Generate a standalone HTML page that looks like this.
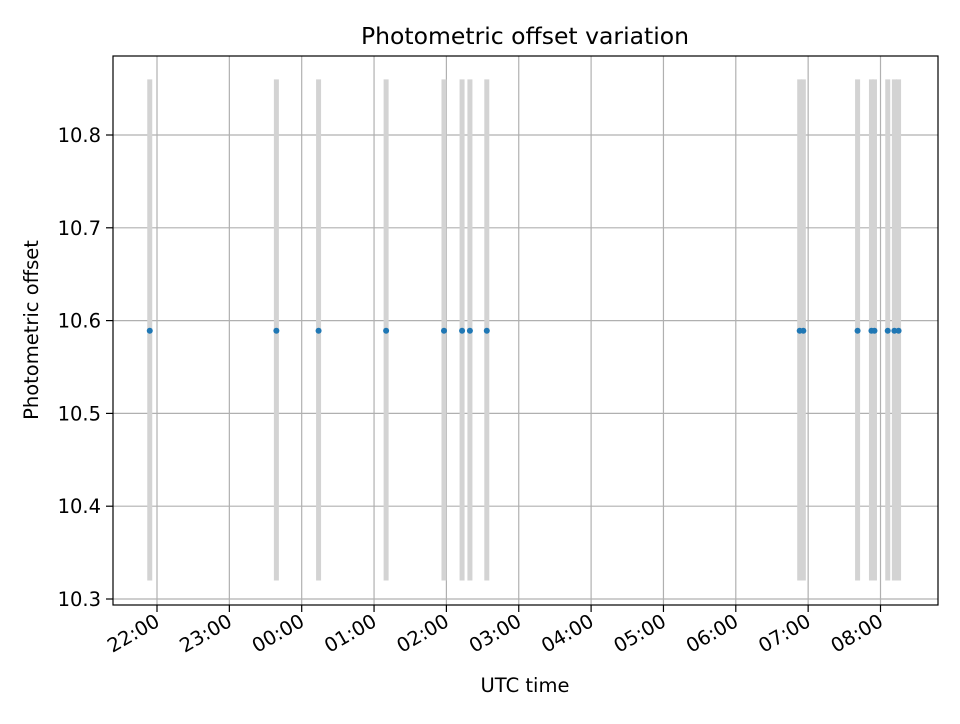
<!DOCTYPE html>
<html><head><meta charset="utf-8"><style>
body{margin:0;background:#fff;font-family:"DejaVu Sans","Liberation Sans",sans-serif}
</style></head><body>
<svg id="chart" width="960" height="720" xmlns="http://www.w3.org/2000/svg" font-family="DejaVu Sans, Liberation Sans, sans-serif">
<rect width="960" height="720" fill="#fff"/>
<g id="grid"></g>
<g id="bars"></g>
<g id="pts"></g>
<rect x="113" y="56" width="825" height="549" fill="none" stroke="#000" stroke-width="1.2"/>
<g id="axes"></g>
<text x="525" y="44" text-anchor="middle" font-size="23.5">Photometric offset variation</text>
<text x="525" y="692" text-anchor="middle" font-size="19.5">UTC time</text>
<text x="38" y="330" text-anchor="middle" font-size="19.5" transform="rotate(-90 38 330)">Photometric offset</text>
</svg>
<script>
// minutes relative to 22:00
const times=[-6,99,134,190,238,253,259.5,273.5,533,536,581,592.5,595,606,611.5,615];
const values=[10.589,10.589,10.589,10.589,10.589,10.589,10.589,10.589,10.589,10.589,10.589,10.589,10.589,10.589,10.589,10.589];
const errLow=[10.32,10.32,10.32,10.32,10.32,10.32,10.32,10.32,10.32,10.32,10.32,10.32,10.32,10.32,10.32,10.32];
const errHigh=[10.86,10.86,10.86,10.86,10.86,10.86,10.86,10.86,10.86,10.86,10.86,10.86,10.86,10.86,10.86,10.86];
const xTickLabels=["22:00","23:00","00:00","01:00","02:00","03:00","04:00","05:00","06:00","07:00","08:00"];
const yTicks=[10.3,10.4,10.5,10.6,10.7,10.8];
const NS="http://www.w3.org/2000/svg";
const L=113,R=938,T=56,B=605;
const xs=m=>157+m*72.35/60;
const ys=v=>599-(v-10.3)*928;
function mk(p,tag,a){const e=document.createElementNS(NS,tag);for(const k in a)e.setAttribute(k,a[k]);document.getElementById(p).appendChild(e);return e;}
yTicks.forEach((v,i)=>{const y=ys(v);
 let g=mk('grid','line',{x1:L,x2:R,y1:y,y2:y,stroke:'#b0b0b0','stroke-width':1.2});
 
 let t=mk('axes','line',{x1:L-7,x2:L,y1:y,y2:y,stroke:'#000','stroke-width':1.2});
 
 let l=mk('axes','text',{x:L-12,y:y+7,'text-anchor':'end','font-size':19.5});l.textContent=v.toFixed(1);
 
});
xTickLabels.forEach((s,i)=>{const x=xs(i*60);
 let g=mk('grid','line',{x1:x,x2:x,y1:T,y2:B,stroke:'#b0b0b0','stroke-width':1.2});
 
 let t=mk('axes','line',{x1:x,x2:x,y1:B,y2:B+7,stroke:'#000','stroke-width':1.2});
 
 let l=mk('axes','text',{x:x+4,y:B+20,'text-anchor':'end','font-size':19.5,transform:`rotate(-30 ${x+4} ${B+20})`});l.textContent=s;
 
});
times.forEach((m,i)=>{const x=xs(m);
 let b=mk('bars','line',{x1:x,x2:x,y1:ys(errLow[i]),y2:ys(errHigh[i]),stroke:'#d3d3d3','stroke-width':5});
 
});
times.forEach((m,i)=>{
 let c=mk('pts','circle',{cx:xs(m),cy:ys(values[i]),r:3,fill:'#1f77b4'});
 
});
</script>
</body></html>
